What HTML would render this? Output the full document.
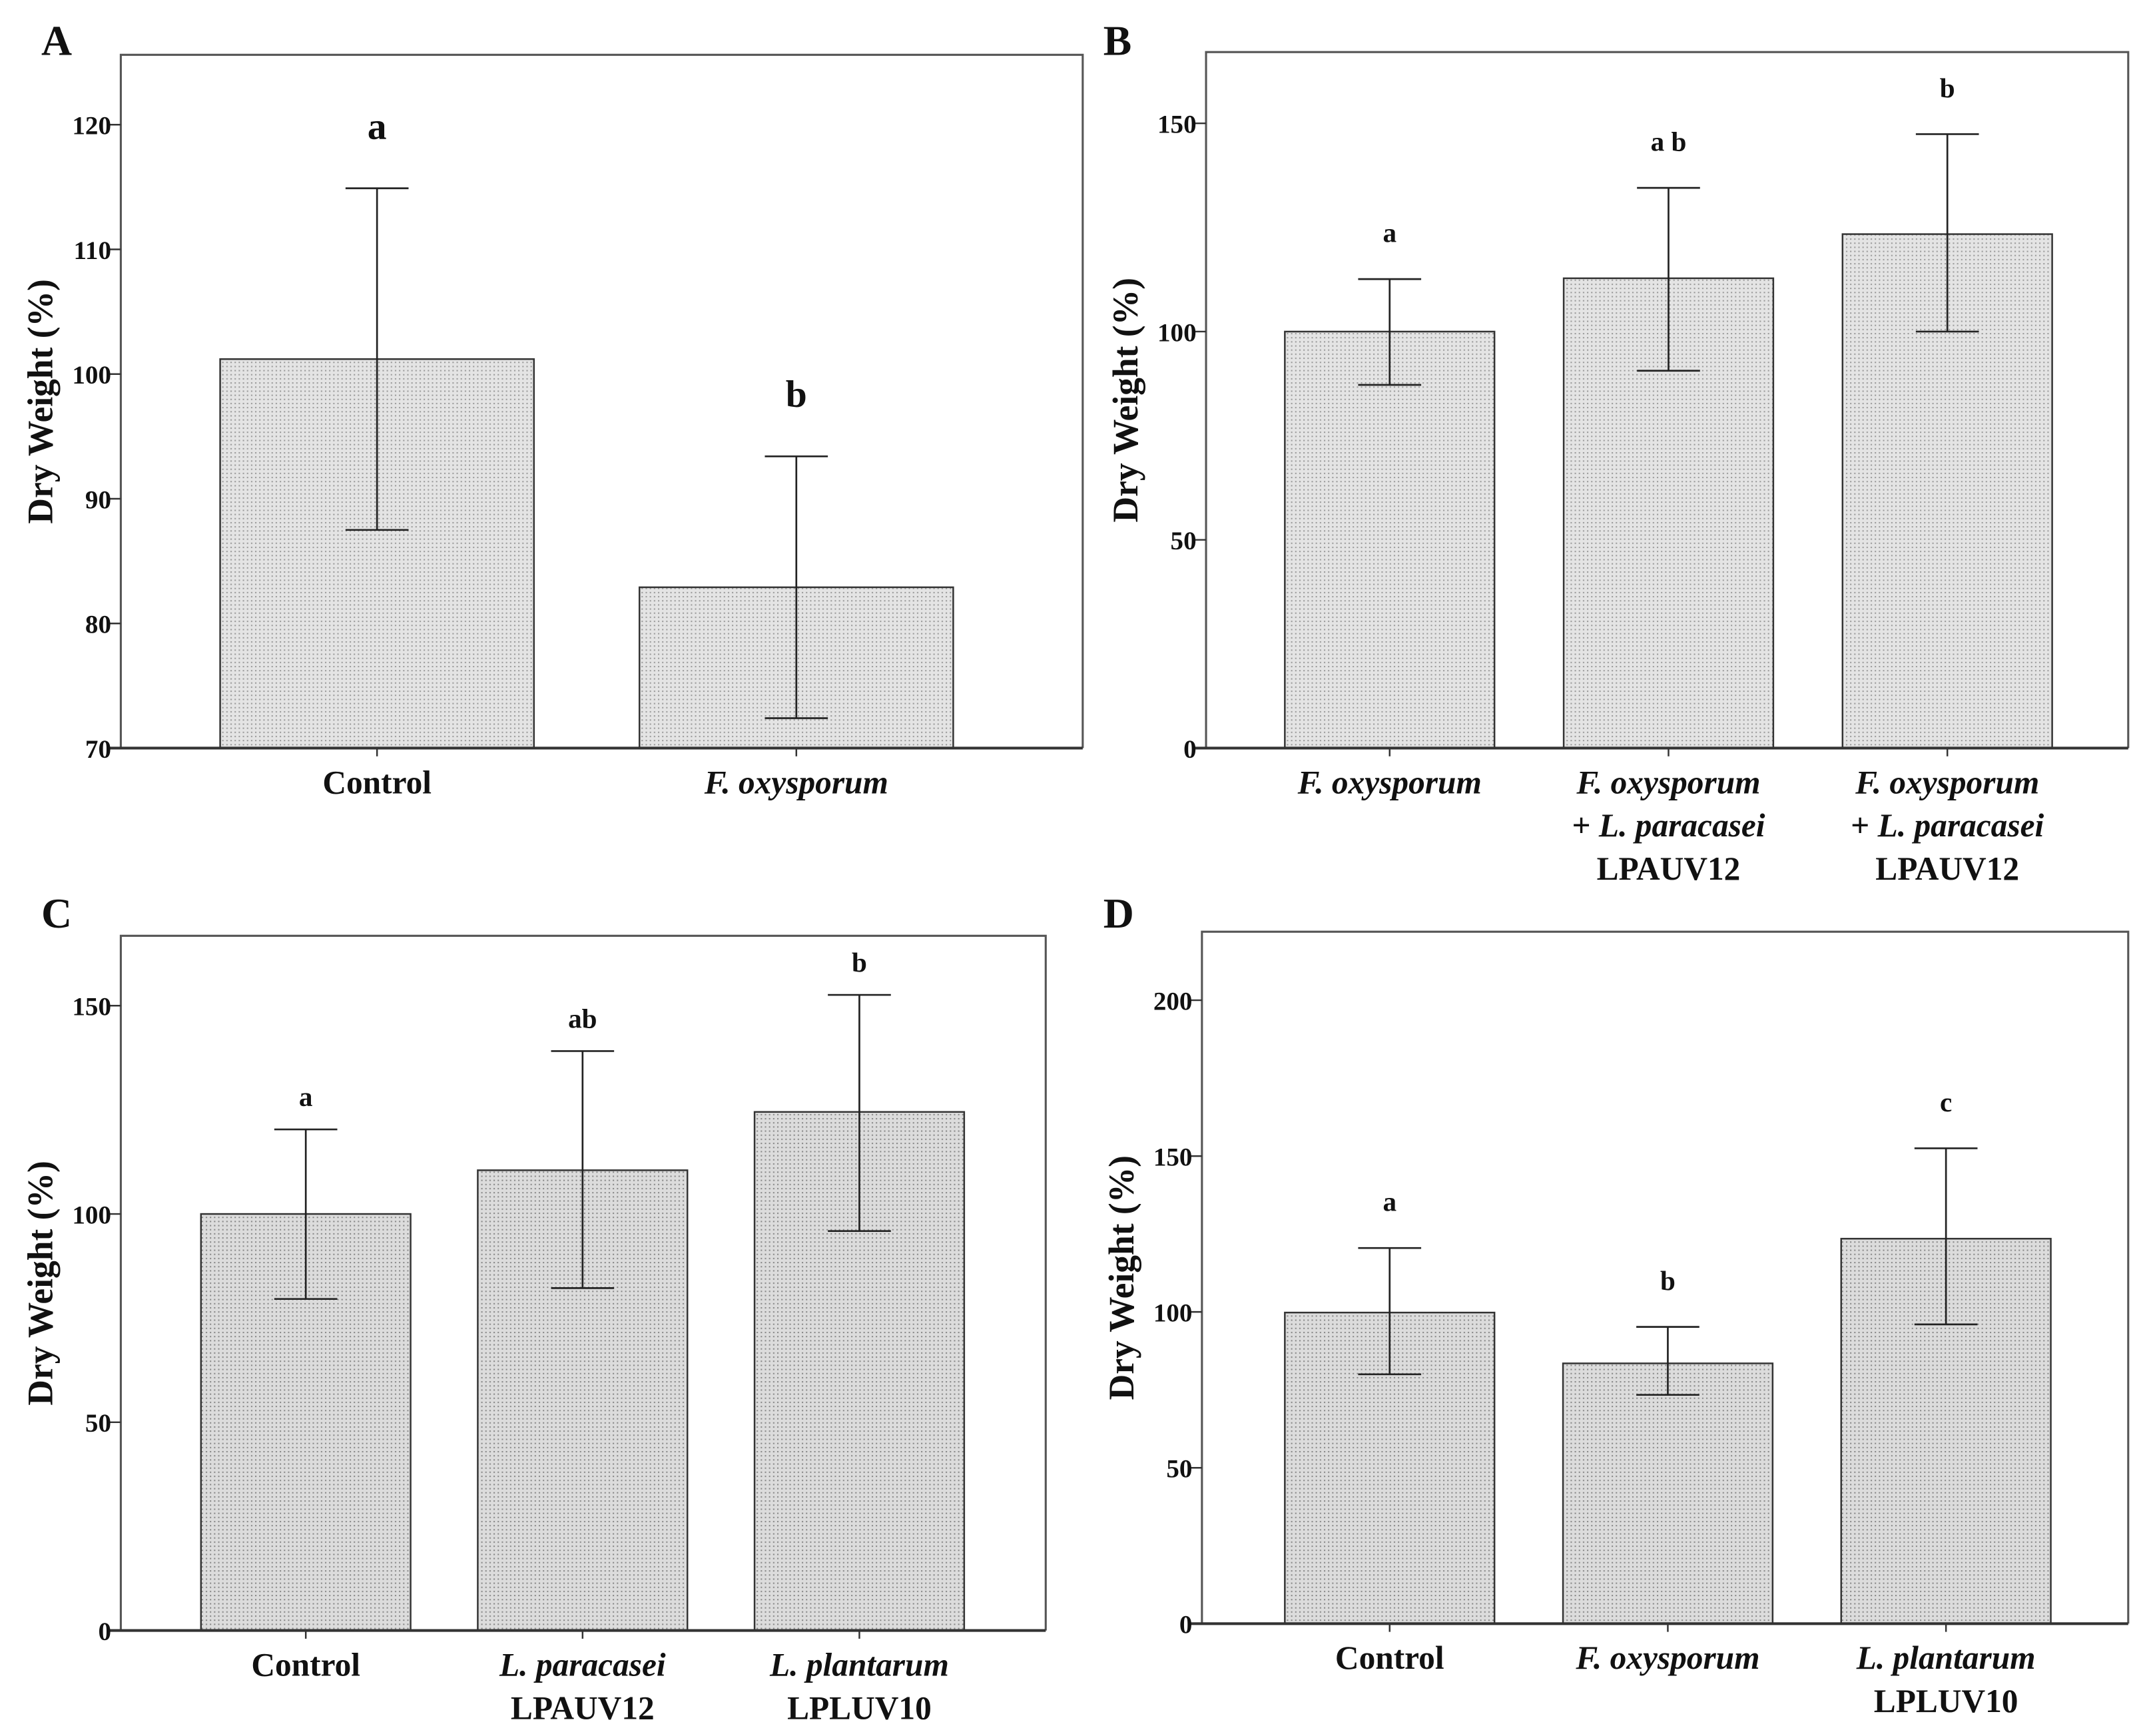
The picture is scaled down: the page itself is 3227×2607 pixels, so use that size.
<!DOCTYPE html>
<html><head><meta charset="utf-8"><style>
html,body{margin:0;padding:0;background:#fff}
svg{display:block}
text{font-family:"Liberation Serif",serif;font-weight:bold;fill:#111}
</style></head><body>
<svg id="fig" width="3227" height="2607" viewBox="0 0 1568 1267" xmlns="http://www.w3.org/2000/svg">
<defs>
<pattern id="dots" width="3" height="3" patternUnits="userSpaceOnUse"><rect width="3" height="3" fill="#e4e4e4"/><rect width="1" height="1" fill="#9a9a9a"/></pattern>
<pattern id="dots2" width="3" height="3" patternUnits="userSpaceOnUse"><rect width="3" height="3" fill="#dcdcdc"/><rect width="1" height="1" fill="#888"/></pattern>
</defs>
</svg>
<script>
// Panel A data
const catsA = [["Control"], ["<i>F. oxysporum</i>"]];
const valsA = [101.2, 82.9];
const loA = [87.5, 72.4];
const hiA = [114.9, 93.4];
const lettersA = ["a", "b"];
const ticksA = [70, 80, 90, 100, 110, 120];
// Panel B data
const catsB = [["<i>F. oxysporum</i>"], ["<i>F. oxysporum</i>", "+ <i>L. paracasei</i>", "LPAUV12"], ["<i>F. oxysporum</i>", "+ <i>L. paracasei</i>", "LPAUV12"]];
const valsB = [100, 112.8, 123.4];
const loB = [87.2, 90.6, 100];
const hiB = [112.6, 134.5, 147.4];
const lettersB = ["a", "a b", "b"];
const ticksB = [0, 50, 100, 150];
// Panel C data
const catsC = [["Control"], ["<i>L. paracasei</i>", "LPAUV12"], ["<i>L. plantarum</i>", "LPLUV10"]];
const valsC = [100, 110.5, 124.5];
const loC = [79.6, 82.2, 95.9];
const hiC = [120.3, 139.1, 152.6];
const lettersC = ["a", "ab", "b"];
const ticksC = [0, 50, 100, 150];
// Panel D data
const catsD = [["Control"], ["<i>F. oxysporum</i>"], ["<i>L. plantarum</i>", "LPLUV10"]];
const valsD = [99.8, 83.5, 123.5];
const loD = [80, 73.4, 96];
const hiD = [120.5, 95.2, 152.5];
const lettersD = ["a", "b", "c"];
const ticksD = [0, 50, 100, 150, 200];

const NS = "http://www.w3.org/2000/svg";
const svg = document.getElementById("fig");
function mk(tag, attrs, parent) {
  const e = document.createElementNS(NS, tag);
  for (const k in attrs) e.setAttribute(k, attrs[k]);
  (parent || svg).appendChild(e);
  return e;
}
function richText(g, str, x, y, size) {
  const t = mk("text", {x: x, y: y, "text-anchor": "middle", "font-size": size}, g);
  const parts = str.split(/(<i>.*?<\/i>)/);
  parts.forEach(p => {
    if (!p) return;
    const ts = mk("tspan", {}, t);
    if (p.startsWith("<i>")) { ts.setAttribute("font-style", "italic"); ts.textContent = p.slice(3, -4); }
    else ts.textContent = p;
  });
  return t;
}
function panel(cfg) {
  const g = mk("g", {});
  
  
  const y = v => cfg.y0 - (v - cfg.vmin) / (cfg.vmax - cfg.vmin) * (cfg.y0 - cfg.y1);
  const pl = mk("text", {x: cfg.lx, y: cfg.ly, "font-size": 31}, g);
  
  
  pl.textContent = cfg.id;
  const fr = mk("path", {d: `M${cfg.L},${cfg.B} L${cfg.L},${cfg.T} L${cfg.R},${cfg.T} L${cfg.R},${cfg.B}`, fill: "none", stroke: "#555", "stroke-width": 1.5}, g);
  
  
  cfg.vals.forEach((v, i) => {
    const cx = cfg.c0 + i * cfg.dc;
    const b = mk("rect", {x: cx - cfg.bw / 2, y: y(v), width: cfg.bw, height: cfg.B - y(v), fill: cfg.fill, stroke: "#333", "stroke-width": 1.2}, g);
    
    
    const e = mk("path", {d: `M${cx},${y(cfg.lo[i])} L${cx},${y(cfg.hi[i])} M${cx - 23},${y(cfg.lo[i])} L${cx + 23},${y(cfg.lo[i])} M${cx - 23},${y(cfg.hi[i])} L${cx + 23},${y(cfg.hi[i])}`, stroke: "#222", "stroke-width": 1.3, fill: "none"}, g);
    
    
    const lt = mk("text", {x: cx, y: y(cfg.hi[i]) - cfg.lgap, "text-anchor": "middle", "font-size": cfg.lsize}, g);
    
    
    lt.textContent = cfg.letters[i];
    const tk = mk("line", {x1: cx, x2: cx, y1: cfg.B, y2: cfg.B + 6, stroke: "#333", "stroke-width": 1.2}, g);
    
    
    cfg.cats[i].forEach((line, j) => {
      const ct = richText(g, line, cx, cfg.B + 33 + j * 31.5, 24);
      
      
    });
  });
  const xa = mk("line", {x1: cfg.L - 8, x2: cfg.R, y1: cfg.B, y2: cfg.B, stroke: "#333", "stroke-width": 2}, g);
  
  
  cfg.ticks.forEach(t => {
    const tl = mk("line", {x1: cfg.L - 8, x2: cfg.L, y1: y(t), y2: y(t), stroke: "#333", "stroke-width": 1.2}, g);
    
    
    const tt = mk("text", {x: cfg.L - 7, y: y(t) + 7, "text-anchor": "end", "font-size": 19}, g);
    
    
    tt.textContent = t;
  });
  const yt = mk("text", {x: 0, y: 0, "text-anchor": "middle", "font-size": 26, transform: `translate(${cfg.L - 50},${(cfg.T + cfg.B) / 2}) rotate(-90)`}, g);
  
  
  yt.textContent = "Dry Weight (%)";
}
panel({id: "A", lx: 30, ly: 40, L: 88, T: 40, R: 790, B: 546, vmin: 70, vmax: 120, y1: 91, y0: 546,
  c0: 275, dc: 306, bw: 229, vals: valsA, lo: loA, hi: hiA, letters: lettersA, ticks: ticksA, cats: catsA, fill: "url(#dots)", lgap: 36, lsize: 28});
panel({id: "B", lx: 805, ly: 40, L: 880, T: 38, R: 1553, B: 546, vmin: 0, vmax: 150, y1: 90, y0: 546,
  c0: 1014, dc: 203.5, bw: 153, vals: valsB, lo: loB, hi: hiB, letters: lettersB, ticks: ticksB, cats: catsB, fill: "url(#dots)", lgap: 27, lsize: 20});
panel({id: "C", lx: 30, ly: 677, L: 88, T: 683, R: 763, B: 1190, vmin: 0, vmax: 150, y1: 734, y0: 1190,
  c0: 223, dc: 202, bw: 153, vals: valsC, lo: loC, hi: hiC, letters: lettersC, ticks: ticksC, cats: catsC, fill: "url(#dots2)", lgap: 17, lsize: 20});
panel({id: "D", lx: 805, ly: 677, L: 877, T: 680, R: 1553, B: 1185, vmin: 0, vmax: 200, y1: 730, y0: 1185,
  c0: 1014, dc: 203, bw: 153, vals: valsD, lo: loD, hi: hiD, letters: lettersD, ticks: ticksD, cats: catsD, fill: "url(#dots2)", lgap: 27, lsize: 20});
</script>
</body></html>
